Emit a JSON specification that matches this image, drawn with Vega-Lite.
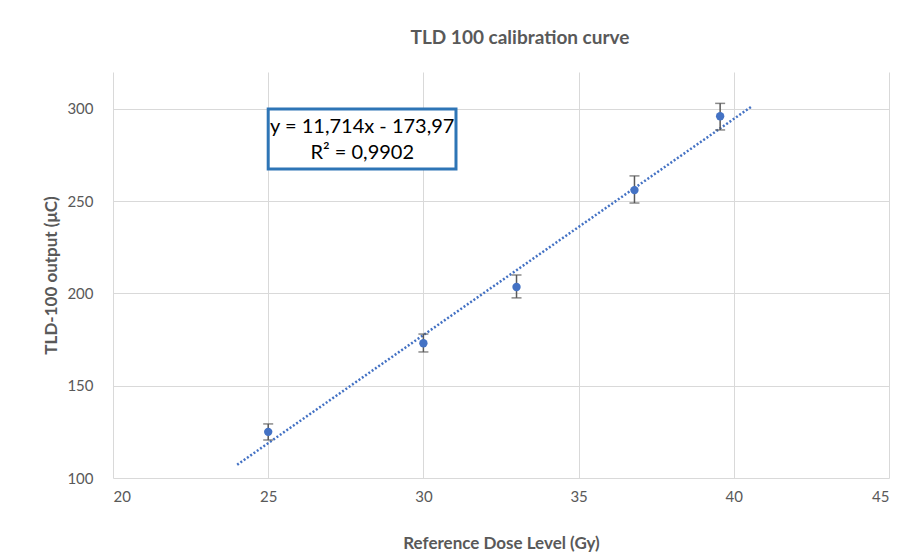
{
  "$schema": "https://vega.github.io/schema/vega-lite/v6.json",
  "width": 776,
  "height": 406,
  "autosize": "none",
  "padding": {"left": 113, "top": 72, "right": 17, "bottom": 82},
  "background": "white",
  "config": {"font": "Lato", "view": {"stroke": null}},
  "title": {"text": "TLD 100 calibration curve", "fontSize": 19, "fontWeight": "bold", "color": "#595959", "anchor": "middle", "dx": 19, "offset": 24},
  "datasets": {
    "points": [
      {"dose": 25, "output": 125, "lo": 120.6, "hi": 129.3},
      {"dose": 30, "output": 173, "lo": 168.3, "hi": 178},
      {"dose": 33, "output": 203.5, "lo": 197.6, "hi": 210},
      {"dose": 36.8, "output": 256, "lo": 249, "hi": 263.7},
      {"dose": 39.56, "output": 296, "lo": 288.6, "hi": 303}
    ],
    "trend": [
      {"dose": 24, "fit": 107.17},
      {"dose": 40.56, "fit": 301.15}
    ],
    "box": [
      {"x1": 25, "x2": 31.05, "y1": 267.5, "y2": 300}
    ],
    "label": [
      {"lx": 28.03, "ly": 290.2, "txt": "y = 11,714x - 173,97"},
      {"lx": 28.03, "ly": 276.2, "txt": "R² = 0,9902"}
    ]
  },
  "layer": [
    {
      "data": {"name": "points"},
      "mark": {"type": "point", "opacity": 0},
      "encoding": {
        "x": {"field": "dose", "type": "quantitative", "scale": {"domain": [20, 45], "nice": false},
          "axis": {"values": [20, 25, 30, 35, 40, 45], "title": "Reference Dose Level (Gy)", "grid": true, "gridColor": "#d9d9d9", "gridWidth": 1, "domain": false, "ticks": false,
            "labelFontSize": 15, "labelColor": "#595959", "labelPadding": 11, "titleFontSize": 17, "titleFontWeight": "bold", "titleColor": "#595959", "titlePadding": 31}},
        "y": {"field": "output", "type": "quantitative", "scale": {"domain": [100, 320], "nice": false, "zero": false},
          "axis": {"values": [100, 150, 200, 250, 300], "title": "TLD-100 output (μC)", "grid": true, "gridColor": "#d9d9d9", "gridWidth": 1, "domain": false, "ticks": false,
            "labelFontSize": 15, "labelColor": "#595959", "labelPadding": 20, "titleFontSize": 17, "titleFontWeight": "bold", "titleColor": "#595959", "titlePadding": 6}}
      }
    },
    {
      "data": {"name": "trend"},
      "mark": {"type": "line", "color": "#4472C4", "strokeWidth": 2.5, "strokeDash": [2, 2]},
      "encoding": {
        "x": {"field": "dose", "type": "quantitative"},
        "y": {"field": "fit", "type": "quantitative"}
      }
    },
    {
      "data": {"name": "points"},
      "mark": {"type": "rule", "color": "#595959", "strokeWidth": 1.5},
      "encoding": {
        "x": {"field": "dose", "type": "quantitative"},
        "y": {"field": "lo", "type": "quantitative"},
        "y2": {"field": "hi"}
      }
    },
    {
      "data": {"name": "points"},
      "mark": {"type": "tick", "orient": "horizontal", "color": "#595959", "size": 10, "thickness": 1.5},
      "encoding": {
        "x": {"field": "dose", "type": "quantitative"},
        "y": {"field": "lo", "type": "quantitative"}
      }
    },
    {
      "data": {"name": "points"},
      "mark": {"type": "tick", "orient": "horizontal", "color": "#595959", "size": 10, "thickness": 1.5},
      "encoding": {
        "x": {"field": "dose", "type": "quantitative"},
        "y": {"field": "hi", "type": "quantitative"}
      }
    },
    {
      "data": {"name": "points"},
      "mark": {"type": "circle", "color": "#4472C4", "size": 70, "opacity": 1},
      "encoding": {
        "x": {"field": "dose", "type": "quantitative"},
        "y": {"field": "output", "type": "quantitative"}
      }
    },
    {
      "data": {"name": "box"},
      "mark": {"type": "rect", "fill": "white", "stroke": "#2E75B6", "strokeWidth": 3},
      "encoding": {
        "x": {"field": "x1", "type": "quantitative"},
        "x2": {"field": "x2"},
        "y": {"field": "y1", "type": "quantitative"},
        "y2": {"field": "y2"}
      }
    },
    {
      "data": {"name": "label"},
      "mark": {"type": "text", "fontSize": 20, "color": "#000000", "align": "center", "baseline": "middle"},
      "encoding": {
        "x": {"field": "lx", "type": "quantitative"},
        "y": {"field": "ly", "type": "quantitative"},
        "text": {"field": "txt"}
      }
    }
  ]
}
